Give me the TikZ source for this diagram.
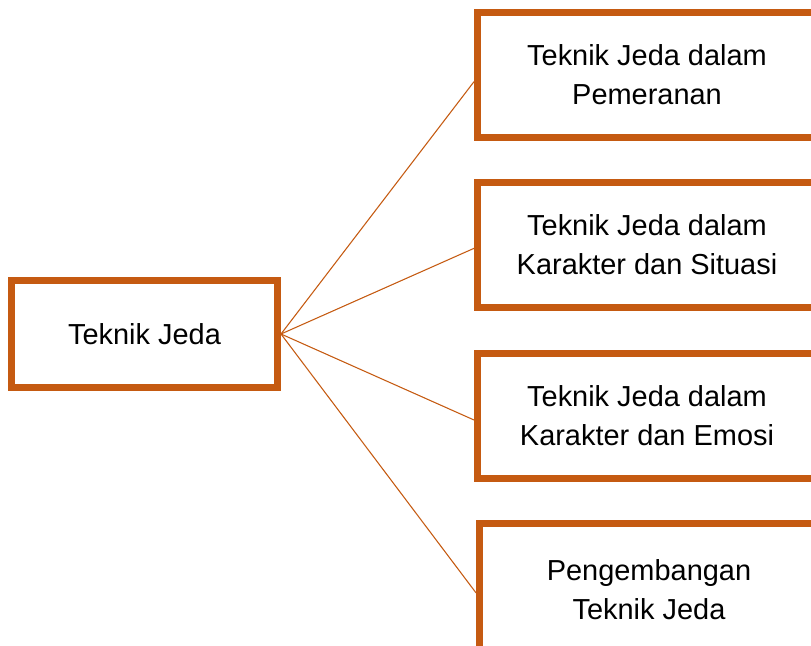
\documentclass[tikz,border=0pt]{standalone}
\usepackage{fontspec}
\setmainfont{Liberation Sans}
\definecolor{rust}{HTML}{C55A11}

\begin{document}
\begin{tikzpicture}[x=0.75pt,y=-0.75pt,
	kotak/.style={draw=rust,line width=5.25pt,fill=white,align=center,
		font=\fontsize{21.7}{29.3}\selectfont},
	akar/.style={kotak,minimum width=199.5pt,minimum height=80.25pt},
	cabang/.style={kotak,minimum width=254.25pt,minimum height=93.75pt},
	garis/.style={draw=rust,line width=0.8pt}]
	\clip (0,0) rectangle (811,646);
	\node[akar] (jeda) at (144.5,334) {Teknik Jeda};
	\node[cabang] (pemeranan) at (647,75) {Teknik Jeda dalam\\Pemeranan};
	\node[cabang] (situasi) at (647,245) {Teknik Jeda dalam\\Karakter dan Situasi};
	\node[cabang] (emosi) at (647,416) {Teknik Jeda dalam\\Karakter dan Emosi};
	\node[cabang,minimum height=99pt] (pengembangan) at (649,589.5) {Pengembangan\\Teknik Jeda};
	% garis dari akar ke tiap cabang
	\draw[garis] (jeda.east) -- ([yshift=-5pt]pemeranan.west);
	\draw[garis] (jeda.east) -- ([yshift=-2.5pt]situasi.west);
	\draw[garis] (jeda.east) -- ([yshift=-3pt]emosi.west);
	\draw[garis] (jeda.east) -- ([yshift=-2.5pt]pengembangan.west);
\end{tikzpicture}
\end{document}
